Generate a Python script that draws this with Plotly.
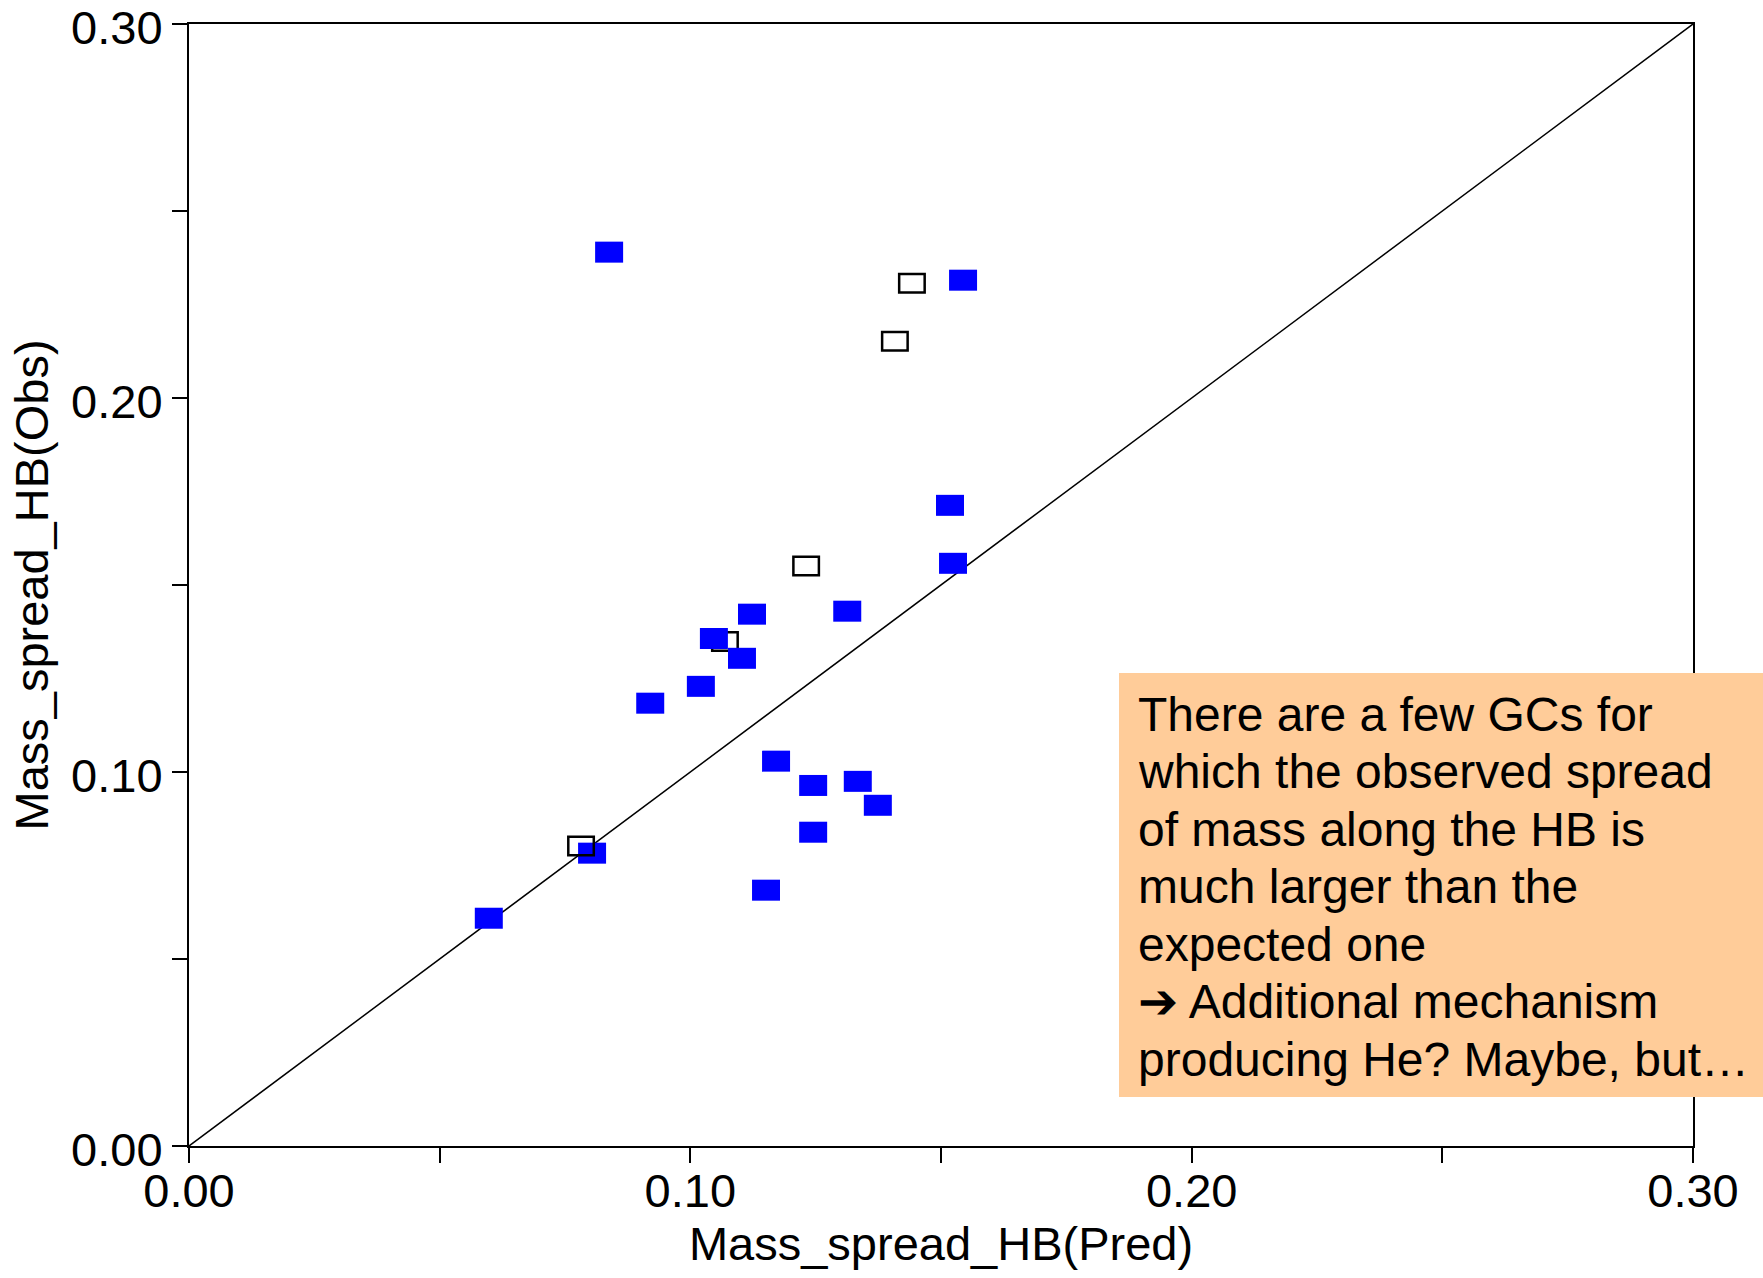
import plotly.graph_objects as go

# ---------------- data ----------------
blue_x = [0.0838, 0.1544, 0.1518, 0.1524, 0.1123, 0.1313, 0.1047, 0.1103, 0.1021,
          0.0920, 0.1171, 0.1245, 0.1334, 0.1374, 0.1245, 0.0804, 0.1151, 0.0598]
blue_y = [0.2390, 0.2315, 0.1713, 0.1558, 0.1422, 0.1430, 0.1357, 0.1304, 0.1229,
          0.1184, 0.1029, 0.0964, 0.0975, 0.0911, 0.0839, 0.0783, 0.0684, 0.0609]

open_x = [0.1231, 0.1069, 0.0782, 0.1442, 0.1408]
open_y = [0.1551, 0.1349, 0.0802, 0.2307, 0.2152]

diag_x = [0.0, 0.30]
diag_y = [0.0, 0.30]

tick_vals = [0.00, 0.05, 0.10, 0.15, 0.20, 0.25, 0.30]
tick_text = ["0.00", "", "0.10", "", "0.20", "", "0.30"]

x_title = "Mass_spread_HB(Pred)"
y_title = "Mass_spread_HB(Obs)"

note_lines = [
    "There are a few GCs for",
    "which the observed spread",
    "of mass along the HB is",
    "much larger than the",
    "expected one",
    "\u2794 Additional mechanism",
    "producing He? Maybe, but\u2026",
]

# ---------------- figure ----------------
W, H = 1763, 1278
ML, MR, MT, MB = 189, 70, 24, 132
PW, PH = W - ML - MR, H - MT - MB
FONT = "Liberation Sans"

fig = go.Figure()

fig.add_trace(go.Scatter(
    x=diag_x, y=diag_y, mode="lines",
    line=dict(color="black", width=1.5),
    hoverinfo="skip", showlegend=False,
))

# hover carriers for the points (marks drawn as pixel-sized rectangles below)
fig.add_trace(go.Scatter(x=blue_x, y=blue_y, mode="markers",
                         marker=dict(size=1, color="rgba(0,0,255,0)"),
                         showlegend=False, name="filled"))
fig.add_trace(go.Scatter(x=open_x, y=open_y, mode="markers",
                         marker=dict(size=1, color="rgba(0,0,0,0)"),
                         showlegend=False, name="open"))

shapes = []
HW, HH = 14, 10.5  # half width / half height in pixels


def open_rect(x, y):
    lw = 2.5
    return dict(type="rect", xref="x", yref="y",
                xsizemode="pixel", ysizemode="pixel",
                xanchor=x, yanchor=y,
                x0=-HW + lw / 2, x1=HW - lw / 2, y0=-HH + lw / 2, y1=HH - lw / 2,
                line=dict(color="black", width=lw), fillcolor="rgba(0,0,0,0)",
                layer="above")


late_open = {2}
for i, (x, y) in enumerate(zip(open_x, open_y)):
    if i not in late_open:
        shapes.append(open_rect(x, y))

for x, y in zip(blue_x, blue_y):
    shapes.append(dict(type="rect", xref="x", yref="y",
                       xsizemode="pixel", ysizemode="pixel",
                       xanchor=x, yanchor=y,
                       x0=-HW, x1=HW, y0=-HH, y1=HH,
                       line=dict(width=0), fillcolor="#0000FF",
                       layer="above"))

for i, (x, y) in enumerate(zip(open_x, open_y)):
    if i in late_open:
        shapes.append(open_rect(x, y))


def px_x(p):
    return (p - ML) / PW


def px_y(p):
    return (H - MB - p) / PH


shapes.append(dict(type="rect", xref="paper", yref="paper",
                   x0=px_x(1119), x1=px_x(1775), y0=px_y(1097), y1=px_y(673),
                   line=dict(width=0), fillcolor="#FFCC99", layer="above"))

annotations = []
for i, line in enumerate(note_lines):
    base = 730 + 57.6 * i
    annotations.append(dict(
        xref="paper", yref="paper", x=px_x(1136), y=px_y(base - 16),
        xanchor="left", yanchor="middle", text=line, showarrow=False,
        font=dict(family=FONT, size=48, color="black"), align="left",
    ))

axis_common = dict(
    range=[0, 0.30], tickvals=tick_vals, ticktext=tick_text,
    ticks="outside", ticklen=15, tickwidth=2, tickcolor="black",
    showline=True, linewidth=2, linecolor="black", mirror=True,
    showgrid=False, zeroline=False, ticklabeloverflow="allow",
    automargin=False,
    tickfont=dict(family=FONT, size=47, color="black"),
)

fig.update_layout(
    width=W, height=H,
    margin=dict(l=ML, r=MR, t=MT, b=MB, autoexpand=False),
    paper_bgcolor="white", plot_bgcolor="white",
    showlegend=False,
    shapes=shapes, annotations=annotations,
    xaxis=dict(**axis_common, ticklabelstandoff=-12,
               title=dict(text=x_title, font=dict(family=FONT, size=47, color="black"),
                          standoff=4)),
    yaxis=dict(**axis_common, ticklabelshift=4,
               title=dict(text=y_title, font=dict(family=FONT, size=47, color="black"),
                          standoff=8)),
    font=dict(family=FONT, color="black"),
)

fig.write_html("out.html")
